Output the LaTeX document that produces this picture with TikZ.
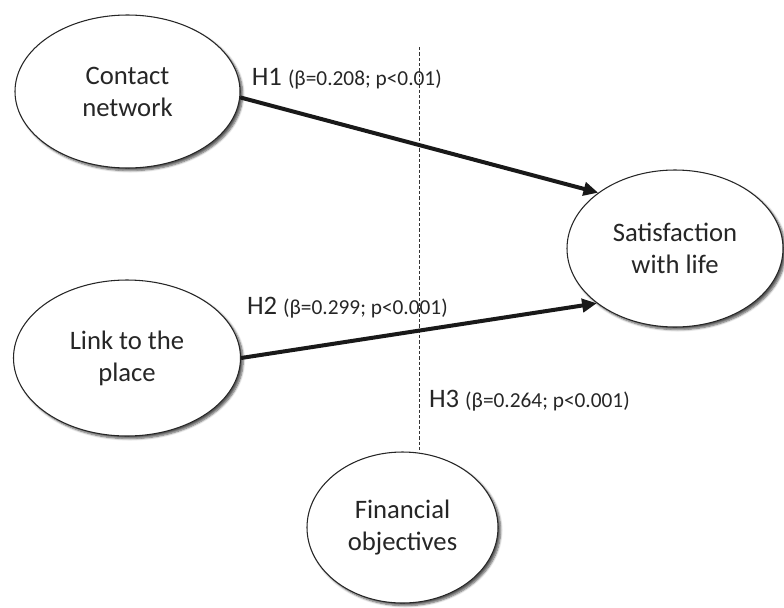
\documentclass[tikz,border=0pt]{standalone}
\usepackage{fontspec}
\setmainfont{Carlito}
\usetikzlibrary{shapes.geometric,arrows.meta,shadows.blur}
\newcommand\coefsize{\fontsize{16}{19}\selectfont}
\begin{document}
\begin{tikzpicture}[x=0.75pt,y=-0.75pt,
  construct/.style={ellipse, draw=black!85, line width=0.8pt, fill=white,
    inner sep=0pt, align=center, text=black!85,
    font=\fontsize{20}{24}\selectfont,
    blur shadow={shadow xshift=2pt, shadow yshift=-2pt,
      shadow blur radius=1.6pt, shadow blur steps=6, shadow opacity=65}},
  effect/.style={line width=3pt, draw=black!90,
    -{Triangle[length=11pt,width=10pt]}},
  hyp/.style={anchor=base east, inner sep=0pt, text=black!85,
    font=\fontsize{20}{24}\selectfont},
]
\useasboundingbox (0,0) rectangle (784,607);

% latent constructs
\node[construct, minimum width=168.75pt, minimum height=114.75pt]
  (cn) at (127.5,91.5) {Contact\\network};
\node[construct, minimum width=170.25pt, minimum height=117pt]
  (lp) at (127,358) {Link to the\\place};
\node[construct, minimum width=162pt, minimum height=117.75pt]
  (sl) at (675,248.5) {Satisfaction\\with life};
\node[construct, minimum width=143.25pt, minimum height=113.25pt]
  (fo) at (402.5,527.5) {Financial\\objectives};

% dashed path from financial objectives
\coordinate (dtop) at (419,47);
\draw[dashed, dash pattern=on 2.4pt off 1.6pt, line width=0.5pt, black!80]
  (dtop) -- (dtop |- fo.north);

% structural paths
\draw[effect] (cn.-3) -- (sl.144.2);
\draw[effect] (lp.east) -- (sl.215.3);

% hypothesis labels
\node[hyp] (h1) at (442,85) {H1 {\coefsize(β=0.208; p<0.01)}};
\node[hyp] (h2) at (448,314) {H2 {\coefsize(β=0.299; p<0.001)}};
\node[hyp] (h3) at (630,407) {H3 {\coefsize(β=0.264; p<0.001)}};
\end{tikzpicture}
\end{document}
